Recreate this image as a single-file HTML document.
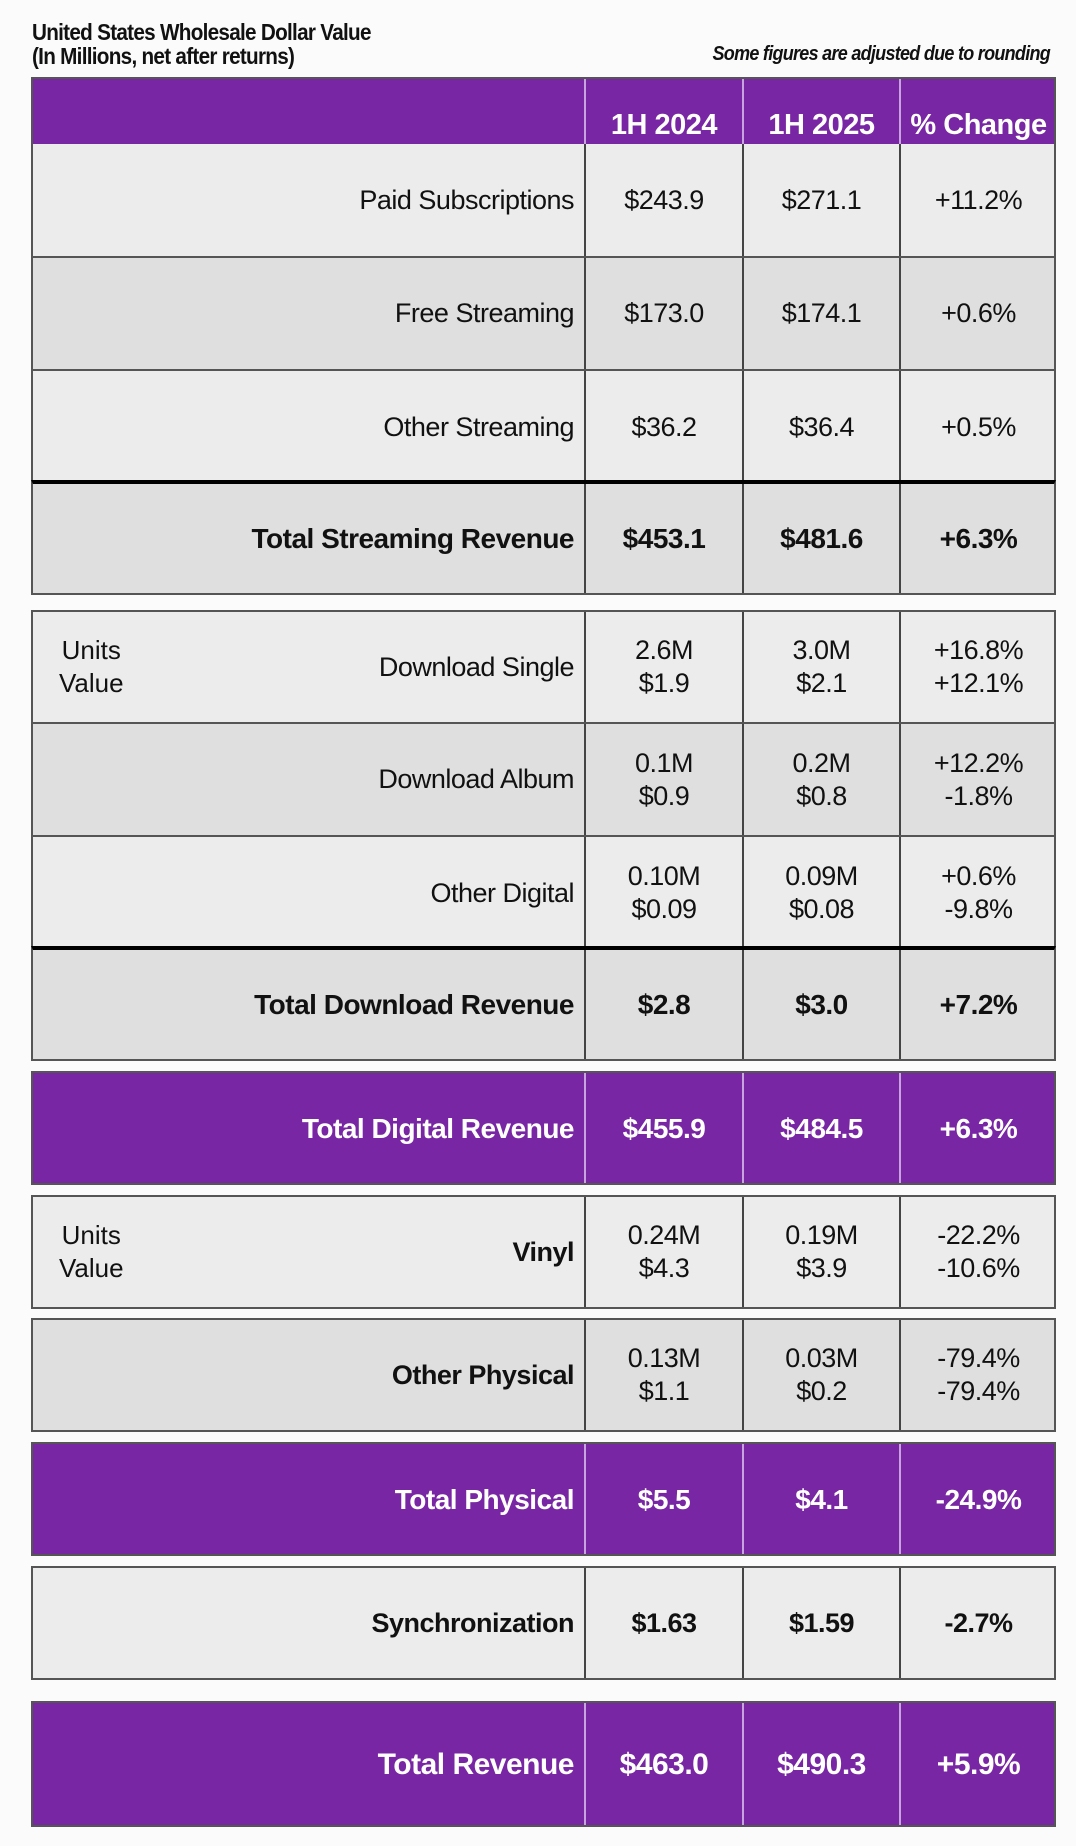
<!DOCTYPE html>
<html><head><meta charset="utf-8"><style>
*{margin:0;padding:0;box-sizing:border-box}
body{width:1076px;height:1846px;background:#fbfbfb;position:relative;overflow:hidden;font-family:"Liberation Sans",sans-serif;color:#111}
.t{position:absolute;left:32px;font-size:23px;font-weight:bold;letter-spacing:-0.8px;transform:scaleX(0.9);transform-origin:left}
.n{position:absolute;right:26px;top:43px;font-size:20px;font-style:italic;font-weight:bold;letter-spacing:-0.8px;transform:scaleX(0.9);transform-origin:right}
.r{position:absolute;left:31px;width:1025px;border:2px solid #555}
.c{position:absolute;top:0;bottom:0;display:flex;align-items:center;justify-content:center;text-align:center;font-size:27px;line-height:33px;letter-spacing:-0.5px}
.lab{left:0;width:551px;justify-content:flex-end;padding-right:10px}
.v1{left:551px;width:158px;border-left:2px solid #444}
.v2{left:709px;width:157px;border-left:2px solid #444}
.v3{left:866px;width:157px;border-left:2px solid #444}
.p{background:#7826a3;color:#fff;font-weight:bold}
.p .c{border-left-color:#c9a3df;font-size:28px}
.p .lab{border:none}
.l{background:#ececec}.d{background:#dfdfdf}
.b{font-weight:bold}
.b .c{font-size:28px}
.u{position:absolute;left:26px;top:0;bottom:0;display:flex;flex-direction:column;justify-content:center;align-items:center;font-size:26px;line-height:33px}
</style></head><body>
<div class="t" style="top:19px">United States Wholesale Dollar Value</div>
<div class="t" style="top:43px">(In Millions, net after returns)</div>
<div class="n">Some figures are adjusted due to rounding</div>

<div class="r p" style="top:77px;height:69px"><div class="c lab"></div><div class="c v1" style="align-items:flex-end;padding-bottom:2px;font-size:29px">1H 2024</div><div class="c v2" style="align-items:flex-end;padding-bottom:2px;font-size:29px">1H 2025</div><div class="c v3" style="align-items:flex-end;padding-bottom:2px;font-size:29px">% Change</div></div>

<div class="r l" style="top:144px;height:114px;border-top:none"><div class="c lab">Paid Subscriptions</div><div class="c v1">$243.9</div><div class="c v2">$271.1</div><div class="c v3">+11.2%</div></div>
<div class="r d" style="top:256px;height:115px"><div class="c lab">Free Streaming</div><div class="c v1">$173.0</div><div class="c v2">$174.1</div><div class="c v3">+0.6%</div></div>
<div class="r l" style="top:369px;height:115px;border-bottom:none"><div class="c lab">Other Streaming</div><div class="c v1">$36.2</div><div class="c v2">$36.4</div><div class="c v3">+0.5%</div></div>
<div class="r d b" style="top:480px;height:115px;border-top:4px solid #000"><div class="c lab">Total Streaming Revenue</div><div class="c v1">$453.1</div><div class="c v2">$481.6</div><div class="c v3">+6.3%</div></div>

<div class="r l" style="top:610px;height:114px"><div class="u"><div>Units</div><div>Value</div></div><div class="c lab">Download Single</div><div class="c v1">2.6M<br>$1.9</div><div class="c v2">3.0M<br>$2.1</div><div class="c v3">+16.8%<br>+12.1%</div></div>
<div class="r d" style="top:722px;height:115px"><div class="c lab">Download Album</div><div class="c v1">0.1M<br>$0.9</div><div class="c v2">0.2M<br>$0.8</div><div class="c v3">+12.2%<br>-1.8%</div></div>
<div class="r l" style="top:835px;height:114px;border-bottom:none"><div class="c lab">Other Digital</div><div class="c v1">0.10M<br>$0.09</div><div class="c v2">0.09M<br>$0.08</div><div class="c v3">+0.6%<br>-9.8%</div></div>
<div class="r d b" style="top:946px;height:115px;border-top:4px solid #000"><div class="c lab">Total Download Revenue</div><div class="c v1">$2.8</div><div class="c v2">$3.0</div><div class="c v3">+7.2%</div></div>

<div class="r p" style="top:1071px;height:114px"><div class="c lab">Total Digital Revenue</div><div class="c v1">$455.9</div><div class="c v2">$484.5</div><div class="c v3">+6.3%</div></div>
<div class="r l" style="top:1195px;height:114px"><div class="u"><div>Units</div><div>Value</div></div><div class="c lab" style="font-weight:bold">Vinyl</div><div class="c v1">0.24M<br>$4.3</div><div class="c v2">0.19M<br>$3.9</div><div class="c v3">-22.2%<br>-10.6%</div></div>
<div class="r d" style="top:1318px;height:114px"><div class="c lab" style="font-weight:bold">Other Physical</div><div class="c v1">0.13M<br>$1.1</div><div class="c v2">0.03M<br>$0.2</div><div class="c v3">-79.4%<br>-79.4%</div></div>
<div class="r p" style="top:1442px;height:114px"><div class="c lab">Total Physical</div><div class="c v1">$5.5</div><div class="c v2">$4.1</div><div class="c v3">-24.9%</div></div>
<div class="r l" style="top:1566px;height:114px;font-weight:bold"><div class="c lab">Synchronization</div><div class="c v1">$1.63</div><div class="c v2">$1.59</div><div class="c v3">-2.7%</div></div>
<div class="r p" style="top:1701px;height:126px"><div class="c lab" style="font-size:30px">Total Revenue</div><div class="c v1" style="font-size:30px">$463.0</div><div class="c v2" style="font-size:30px">$490.3</div><div class="c v3" style="font-size:30px">+5.9%</div></div>
</body></html>
